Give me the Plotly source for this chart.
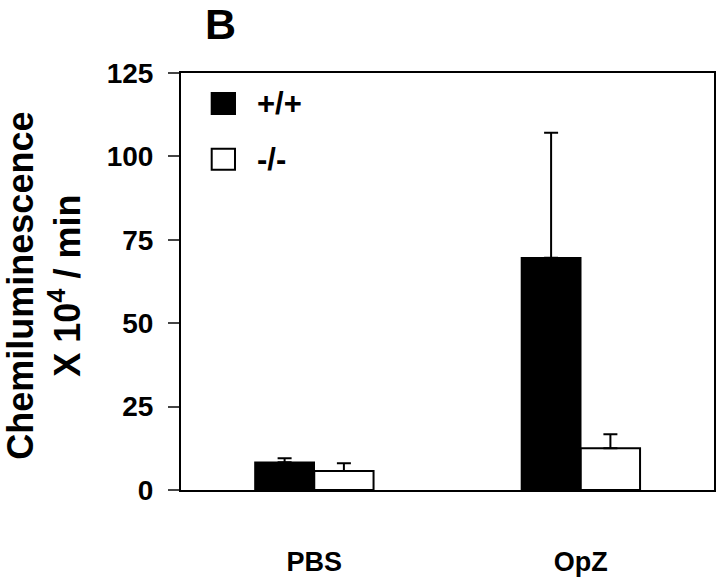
import plotly.graph_objects as go

categories = ["PBS", "OpZ"]
wt_values = [8.3, 69.6]
wt_err = [1.2, 37.5]
ko_values = [5.7, 12.5]
ko_err = [2.3, 4.2]
y_ticks = [0, 25, 50, 75, 100, 125]
series_names = ["+/+", "-/-"]

FONT = "Liberation Sans"

fig = go.Figure()
fig.add_trace(go.Bar(
    x=categories, y=wt_values, name=series_names[0], showlegend=False,
    marker=dict(color="black", line=dict(color="black", width=1.5)),
    error_y=dict(type="data", symmetric=False, array=wt_err, arrayminus=[0, 0],
                 color="black", thickness=2, width=7),
))
fig.add_trace(go.Bar(
    x=categories, y=ko_values, name=series_names[1], showlegend=False,
    marker=dict(color="white", line=dict(color="black", width=2)),
    error_y=dict(type="data", symmetric=False, array=ko_err, arrayminus=[0, 0],
                 color="black", thickness=2, width=7),
))

# legend drawn as key squares + labels (larger than plotly's legend allows)
legend_shapes = [
    dict(type="rect", xref="paper", yref="paper", x0=0.0576, x1=0.1013,
         y0=0.9016, y1=0.952, fillcolor="black", line=dict(color="black", width=2)),
    dict(type="rect", xref="paper", yref="paper", x0=0.0576, x1=0.1013,
         y0=0.768, y1=0.8183, fillcolor="white", line=dict(color="black", width=2)),
]
legend_labels = [
    dict(text=series_names[0], xref="paper", yref="paper", x=0.1385, y=0.9275,
         xanchor="left", yanchor="middle", showarrow=False,
         font=dict(size=31, family=FONT, weight="bold")),
    dict(text=series_names[1], xref="paper", yref="paper", x=0.1385, y=0.792,
         xanchor="left", yanchor="middle", showarrow=False,
         font=dict(size=31, family=FONT, weight="bold")),
]

fig.update_layout(
    width=720, height=578,
    margin=dict(l=181, r=6, t=73, b=88, autoexpand=False),
    paper_bgcolor="white", plot_bgcolor="white",
    barmode="group", bargap=0.555, bargroupgap=0,
    showlegend=False,
    font=dict(family=FONT, color="black", weight="bold"),
    xaxis=dict(range=[-0.5, 1.5], showline=True, linewidth=2, linecolor="black",
               mirror=True, ticks="", showgrid=False, automargin=False,
               tickfont=dict(size=27, family=FONT, weight="bold"),
               ticklabelstandoff=47),
    yaxis=dict(range=[0, 125], tickvals=y_ticks, showline=True, linewidth=2,
               linecolor="black", mirror=True, ticks="outside", ticklen=11,
               tickwidth=2, showgrid=False, zeroline=False, automargin=False,
               ticklabelstandoff=9,
               tickfont=dict(size=28, family=FONT, weight="bold")),
    shapes=legend_shapes,
    annotations=[
        dict(text="Chemiluminescence<br>X 10<sup>4</sup> / min", textangle=-90,
             xref="paper", yref="paper", x=-0.257, y=0.49, xanchor="center",
             yanchor="middle", showarrow=False,
             font=dict(size=36, family=FONT, weight="bold")),
        dict(text="B", xref="paper", yref="paper", x=0.0741, y=1.118,
             xanchor="center", yanchor="middle", showarrow=False,
             font=dict(size=43, family=FONT, weight="bold")),
    ] + legend_labels,
)

fig.write_html("out.html", config={"displayModeBar": False},
               post_script="document.body.style.margin='0px';")
